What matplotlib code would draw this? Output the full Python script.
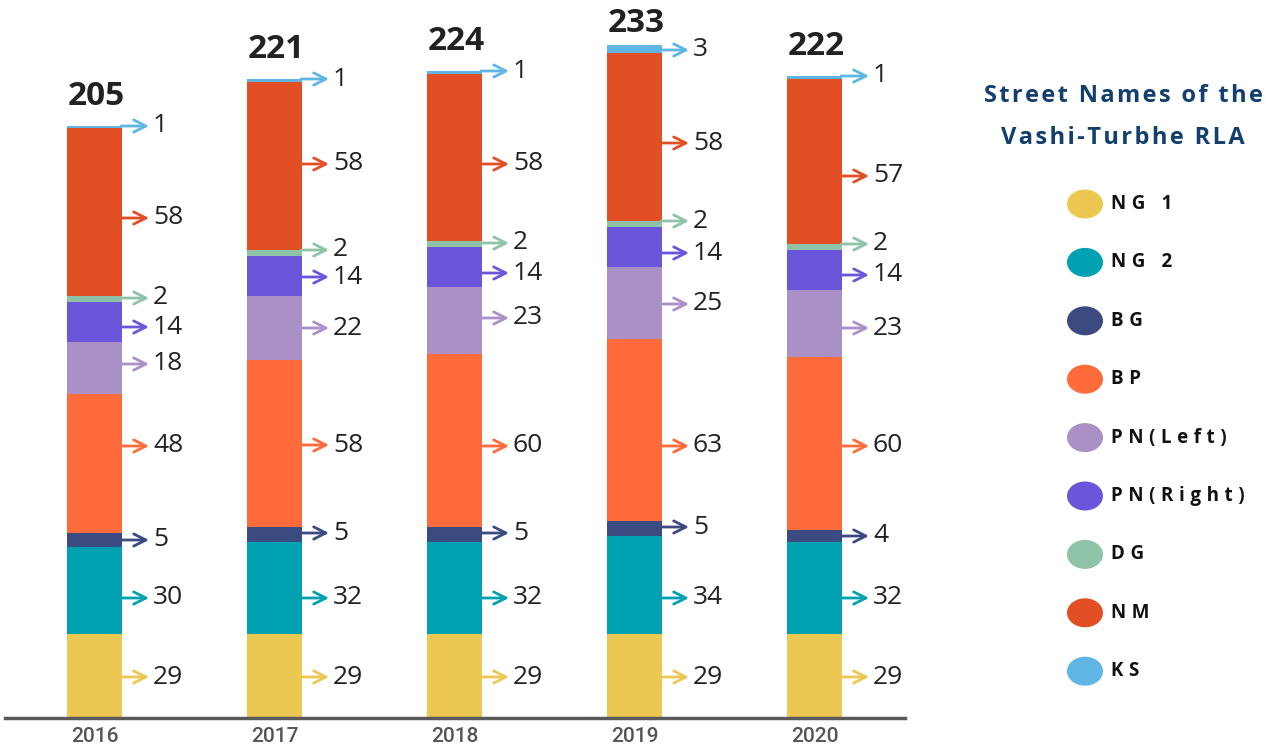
import numpy as np
import matplotlib
matplotlib.use('Agg')
import matplotlib.pyplot as plt
from matplotlib.patches import Ellipse

years = ['2016', '2017', '2018', '2019', '2020']
streets = ['NG 1', 'NG 2', 'BG', 'BP', 'PN(Left)', 'PN(Right)', 'DG', 'NM', 'KS']
colors = ['#ECC852', '#00A1B0', '#3C4A82', '#FF6B3A', '#AA90C6',
          '#6B55DA', '#8FC3A7', '#E34F25', '#5FB6E4']

# counts per street for each year
counts = {
    'NG 1':      [29, 29, 29, 29, 29],
    'NG 2':      [30, 32, 32, 34, 32],
    'BG':        [5, 5, 5, 5, 4],
    'BP':        [48, 58, 60, 63, 60],
    'PN(Left)':  [18, 22, 23, 25, 23],
    'PN(Right)': [14, 14, 14, 14, 14],
    'DG':        [2, 2, 2, 2, 2],
    'NM':        [58, 58, 58, 58, 57],
    'KS':        [1, 1, 1, 3, 1],
}

# layout: pixel row of each value label (hand placed in the original)
label_px = {
    'NG 1':      [677, 677, 677, 677, 677],
    'NG 2':      [598, 598, 598, 598, 598],
    'BG':        [540, 533, 533, 527, 536],
    'BP':        [446, 445, 446, 446, 446],
    'PN(Left)':  [364, 328, 318, 304, 328],
    'PN(Right)': [327, 277, 273, 253, 275],
    'DG':        [298, 250, 243, 221, 244],
    'NM':        [218, 164, 164, 143, 176],
    'KS':        [126, 79, 71, 50, 76],
}

W, H = 1266, 747
PX = 2.89  # pixels per unit
fig = plt.figure(figsize=(W / 100, H / 100), dpi=100)
fig.patch.set_facecolor('white')

# main axes in pixel terms: left 5, right 905, baseline at 718
ax = fig.add_axes([5 / W, (H - 718) / H, 900 / W, 718 / H])
ax.set_xlim(-89.5 / 180, (900 - 89.5) / 180)
ax.set_ylim(0, 718 / PX)
ax.axis('off')

bar_w = 55 / 180
arrow_len = 27 / 180
num_font = ['Open Sans', 'DejaVu Sans']

x = np.arange(len(years))
bottom = np.zeros(len(years))
for name, col in zip(streets, colors):
    vals = np.array(counts[name], dtype=float)
    ax.bar(x, vals, bar_w, bottom=bottom, color=col, linewidth=0)
    bottom = bottom + vals

for j in range(len(years)):
    xe = x[j] + bar_w / 2
    for name, col in zip(streets, colors):
        yy = (718 - label_px[name][j]) / PX
        ax.annotate('', xy=(xe + arrow_len, yy), xytext=(xe - 0.005, yy),
                    arrowprops=dict(arrowstyle='->', color=col, lw=2,
                                    mutation_scale=22, shrinkA=0, shrinkB=0))
        ax.text(xe + 31 / 180, yy, str(counts[name][j]), va='center', ha='left',
                fontsize=19, color='#222222', family=num_font)
    # total above the bar, squeezed when close to the top edge
    top_px = 718 - bottom[j] * PX
    text_bottom = max(top_px - 21, 32)
    ax.text(x[j] + 1.5 / 180, (718 - text_bottom) / PX, str(int(bottom[j])),
            ha='center', va='baseline', fontsize=24, fontweight='bold',
            color='#222222', family=num_font)

ax.axhline(0, color='#5a5a5a', lw=2.5, clip_on=False)
for j, yr in enumerate(years):
    ax.text(x[j], -18 / PX, yr, ha='center', va='center', fontsize=15,
            fontweight='medium', color='#555555', family=['Roboto', 'DejaVu Sans'])

# legend panel drawn in pixel coordinates
lg = fig.add_axes([0, 0, 1, 1])
lg.set_xlim(0, W)
lg.set_ylim(H, 0)
lg.axis('off')
lg.patch.set_alpha(0)

title_col = '#123F6E'
for line, yy in [('Street Names of the', 96), ('Vashi-Turbhe RLA', 138)]:
    lg.text(1123, yy, '\u200a'.join(line), ha='center', va='center', fontsize=17,
            fontweight='bold', color=title_col, family=num_font)

for k, (name, col) in enumerate(zip(streets, colors)):
    yy = 204 + k * 58.4
    lg.add_patch(Ellipse((1085, yy), 36, 29, color=col, lw=0))
    spaced = '\u2009\u200a'.join(name)
    lg.text(1111, yy, spaced, ha='left', va='center', fontsize=13.5,
            fontweight='bold', color='#111111', family=num_font)

fig.savefig('out.png', dpi=100, facecolor='white')
